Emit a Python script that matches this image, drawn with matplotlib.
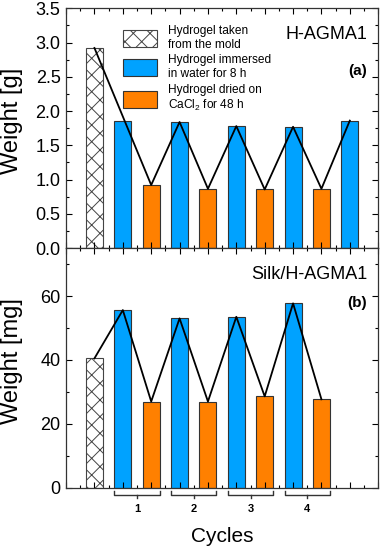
import matplotlib.pyplot as plt
import matplotlib.transforms as mtransforms
from matplotlib.ticker import MultipleLocator
import numpy as np

plt.rcParams['font.family'] = ['Liberation Sans', 'DejaVu Sans']
plt.rcParams['hatch.color'] = '#555555'
plt.rcParams['hatch.linewidth'] = 0.7

# ---------------- dados ----------------
# posicoes: molde em 0, imerso (azul) nos impares, seco (laranja) nos pares
top_mold = 2.92
top_wet = [1.85, 1.84, 1.78, 1.77, 1.86]
top_dry = [0.92, 0.865, 0.855, 0.865]

bot_mold = 40.5
bot_wet = [55.6, 53.0, 53.5, 57.7]
bot_dry = [27.0, 27.0, 28.6, 27.7]

cycle_labels = ['1', '2', '3', '4']

leg_labels = ['Hydrogel taken\nfrom the mold',
              'Hydrogel immersed\nin water for 8 h',
              'Hydrogel dried on\nCaCl$_\\mathregular{2}$ for 48 h']

blue = '#00A2FF'
orange = '#FF8000'
w = 0.6

fig = plt.figure(figsize=(3.82, 5.5), dpi=100)
ax1 = fig.add_axes([0.173, 0.549, 0.817, 0.436])
ax2 = fig.add_axes([0.173, 0.113, 0.817, 0.436])


def painel(ax, mold, wet, dry):
    x_wet = np.arange(len(wet)) * 2 + 1
    x_dry = np.arange(len(dry)) * 2 + 2
    h = ax.bar(0, mold, w, color='white', edgecolor='#444444', hatch='xx', lw=0.8)
    b = ax.bar(x_wet, wet, w, color=blue, edgecolor='#333333', lw=0.8)
    o = ax.bar(x_dry, dry, w, color=orange, edgecolor='#333333', lw=0.8)
    return h, b, o, x_wet, x_dry


# ---------------- painel (a) ----------------
h, b, o, xw, xd = painel(ax1, top_mold, top_wet, top_dry)
# linha: molde -> seco1 -> imerso2 -> ... -> imerso5
lx = [0] + list(np.ravel(np.column_stack([xd, xw[1:]])))
ly = [top_mold] + list(np.ravel(np.column_stack([top_dry, top_wet[1:]])))
ax1.plot(lx, ly, color='black', lw=1.3)
ax1.set_ylim(0, 3.5)
ax1.yaxis.set_major_locator(MultipleLocator(0.5))
ax1.yaxis.set_minor_locator(MultipleLocator(0.25))
ax1.set_ylabel('Weight [g]', fontsize=17)
ax1.yaxis.set_label_coords(-0.138, 0.53)
ax1.text(0.965, 0.89, 'H-AGMA1', transform=ax1.transAxes, ha='right', va='center', fontsize=13)
ax1.text(0.965, 0.74, '(a)', transform=ax1.transAxes, ha='right', va='center',
         fontsize=11, fontweight='bold')
ax1.legend([h, b, o], leg_labels, loc='upper left', bbox_to_anchor=(0.155, 0.965),
           frameon=False, fontsize=8.6, handlelength=2.9, handleheight=1.8,
           labelspacing=0.3, handletextpad=0.85, borderpad=0.2)

# ---------------- painel (b) ----------------
h, b, o, xw, xd = painel(ax2, bot_mold, bot_wet, bot_dry)
lx = [0] + list(np.ravel(np.column_stack([xw, xd])))
ly = [bot_mold] + list(np.ravel(np.column_stack([bot_wet, bot_dry])))
ax2.plot(lx, ly, color='black', lw=1.3)
ax2.set_ylim(0, 75)
ax2.yaxis.set_major_locator(MultipleLocator(20))
ax2.yaxis.set_minor_locator(MultipleLocator(10))
ax2.set_ylabel('Weight [mg]', fontsize=17)
ax2.yaxis.set_label_coords(-0.138, 0.53)
ax2.text(0.965, 0.89, 'Silk/H-AGMA1', transform=ax2.transAxes, ha='right', va='center', fontsize=13)
ax2.text(0.965, 0.77, '(b)', transform=ax2.transAxes, ha='right', va='center',
         fontsize=11, fontweight='bold')
ax2.set_xlabel('Cycles', fontsize=15, labelpad=24)

# chaves dos ciclos abaixo do eixo
trans = mtransforms.blended_transform_factory(ax2.transData, ax2.transAxes)
for i, lab in enumerate(cycle_labels):
    x0 = xw[i] - w / 2
    x1 = xd[i] + w / 2
    xc = (x0 + x1) / 2
    ax2.plot([x0, x0, x1, x1], [-0.014, -0.029, -0.029, -0.014], color='#333333',
             lw=1.0, transform=trans, clip_on=False)
    ax2.plot([xc, xc], [-0.029, -0.042], color='#333333', lw=1.0,
             transform=trans, clip_on=False)
    ax2.text(xc, -0.088, lab, transform=trans, ha='center', va='center',
             fontsize=8, fontweight='bold')

for ax in (ax1, ax2):
    ax.set_xlim(-1, 10)
    ax.xaxis.set_major_locator(MultipleLocator(1))
    ax.xaxis.set_minor_locator(MultipleLocator(0.5))
    ax.tick_params(which='both', direction='in', top=True, right=True, labelsize=13, pad=4)
    ax.tick_params(which='major', length=4, width=0.8)
    ax.tick_params(which='minor', length=2.5, width=0.8)
    ax.tick_params(axis='x', labelbottom=False)
    for s in ax.spines.values():
        s.set_linewidth(0.9)
        s.set_color('#333333')

plt.savefig('out.png', dpi=100)
